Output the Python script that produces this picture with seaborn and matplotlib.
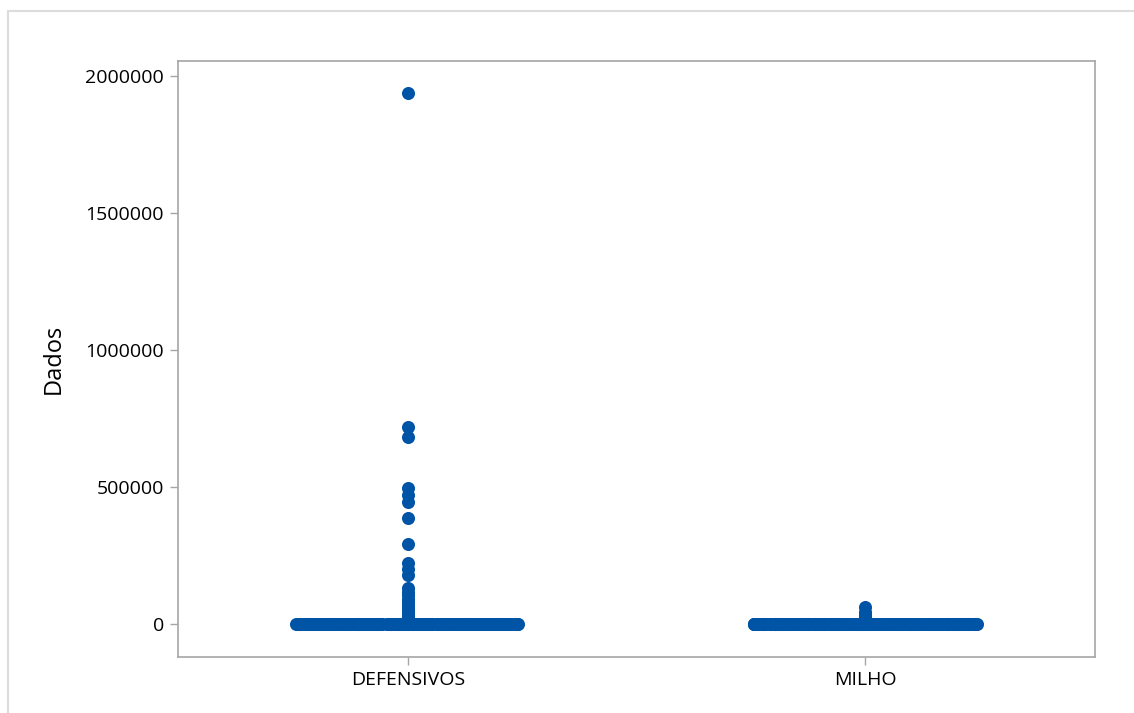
import numpy as np
import pandas as pd
import matplotlib
matplotlib.use("Agg")
import matplotlib.pyplot as plt
from matplotlib.lines import Line2D
import seaborn as sns

# Categories
categorias = ["DEFENSIVOS", "MILHO"]

# Large observations (drawn on the category centre line)
defensivos_altos = [1938000, 720000, 683000, 496000, 471000, 445000, 387000,
                    292000, 222000, 200000, 179000, 131000, 118000, 105000,
                    92000, 80000, 68000, 57000, 47000, 38000, 30000, 23000,
                    16000, 10000]
milho_altos = [63000, 45000, 32000, 21000, 12000]

# Bulk of observations close to zero (value, number of records)
defensivos_base_valores = [0, 100, 250, 500, 800, 1200]
defensivos_base_contagens = [130, 60, 40, 30, 20, 12]
milho_base_valores = [0, 80, 200, 400, 700, 1000]
milho_base_contagens = [130, 60, 40, 30, 20, 12]

y_ticks = [0, 500000, 1000000, 1500000, 2000000]
y_label = "Dados"

AZUL = "#0054a6"

base = pd.DataFrame({
    "grupo": np.concatenate([
        np.repeat(categorias[0], sum(defensivos_base_contagens)),
        np.repeat(categorias[1], sum(milho_base_contagens)),
    ]),
    "Dados": np.concatenate([
        np.repeat(defensivos_base_valores, defensivos_base_contagens),
        np.repeat(milho_base_valores, milho_base_contagens),
    ]),
})
altos = pd.DataFrame({
    "grupo": [categorias[0]] * len(defensivos_altos) + [categorias[1]] * len(milho_altos),
    "Dados": defensivos_altos + milho_altos,
})

sns.set_theme(style="white")
plt.rcParams["font.family"] = ["Open Sans", "DejaVu Sans"]

fig = plt.figure(figsize=(11.34, 7.13), dpi=100)
ax = fig.add_axes([178 / 1134, 1 - 657 / 713, (1095 - 178) / 1134, (657 - 61) / 713])

np.random.seed(7)
sns.stripplot(data=base, x="grupo", y="Dados", order=categorias, jitter=0.245,
              color=AZUL, size=9.4, linewidth=0, ax=ax)
sns.stripplot(data=altos, x="grupo", y="Dados", order=categorias, jitter=False,
              color=AZUL, size=9.4, linewidth=0, ax=ax)

ax.set_xlim(-0.503, 1.503)
ax.set_ylim(-120000, 2055000)
ax.set_yticks(y_ticks)
ax.set_yticklabels([str(v) for v in y_ticks])
ax.set_xlabel("")
ax.set_ylabel(y_label, fontsize=17, labelpad=14, color="black")

for s in ax.spines.values():
    s.set_visible(True)
    s.set_color("#a6a6a6")
    s.set_linewidth(1.2)

ax.tick_params(axis="both", which="both", length=6, width=1, color="#a6a6a6",
               labelsize=14, labelcolor="black", pad=4)
ax.tick_params(axis="y", left=True)
ax.tick_params(axis="x", bottom=True)

# Light frame lines along the top and left of the figure
for xs, ys in [((8 / 1134, 1.0), (1 - 11 / 713, 1 - 11 / 713)),
               ((8 / 1134, 8 / 1134), (0.0, 1 - 11 / 713))]:
    fig.add_artist(Line2D(xs, ys, transform=fig.transFigure,
                          color="#dcdcdc", linewidth=1.5))

fig.savefig("out.png", dpi=100)
